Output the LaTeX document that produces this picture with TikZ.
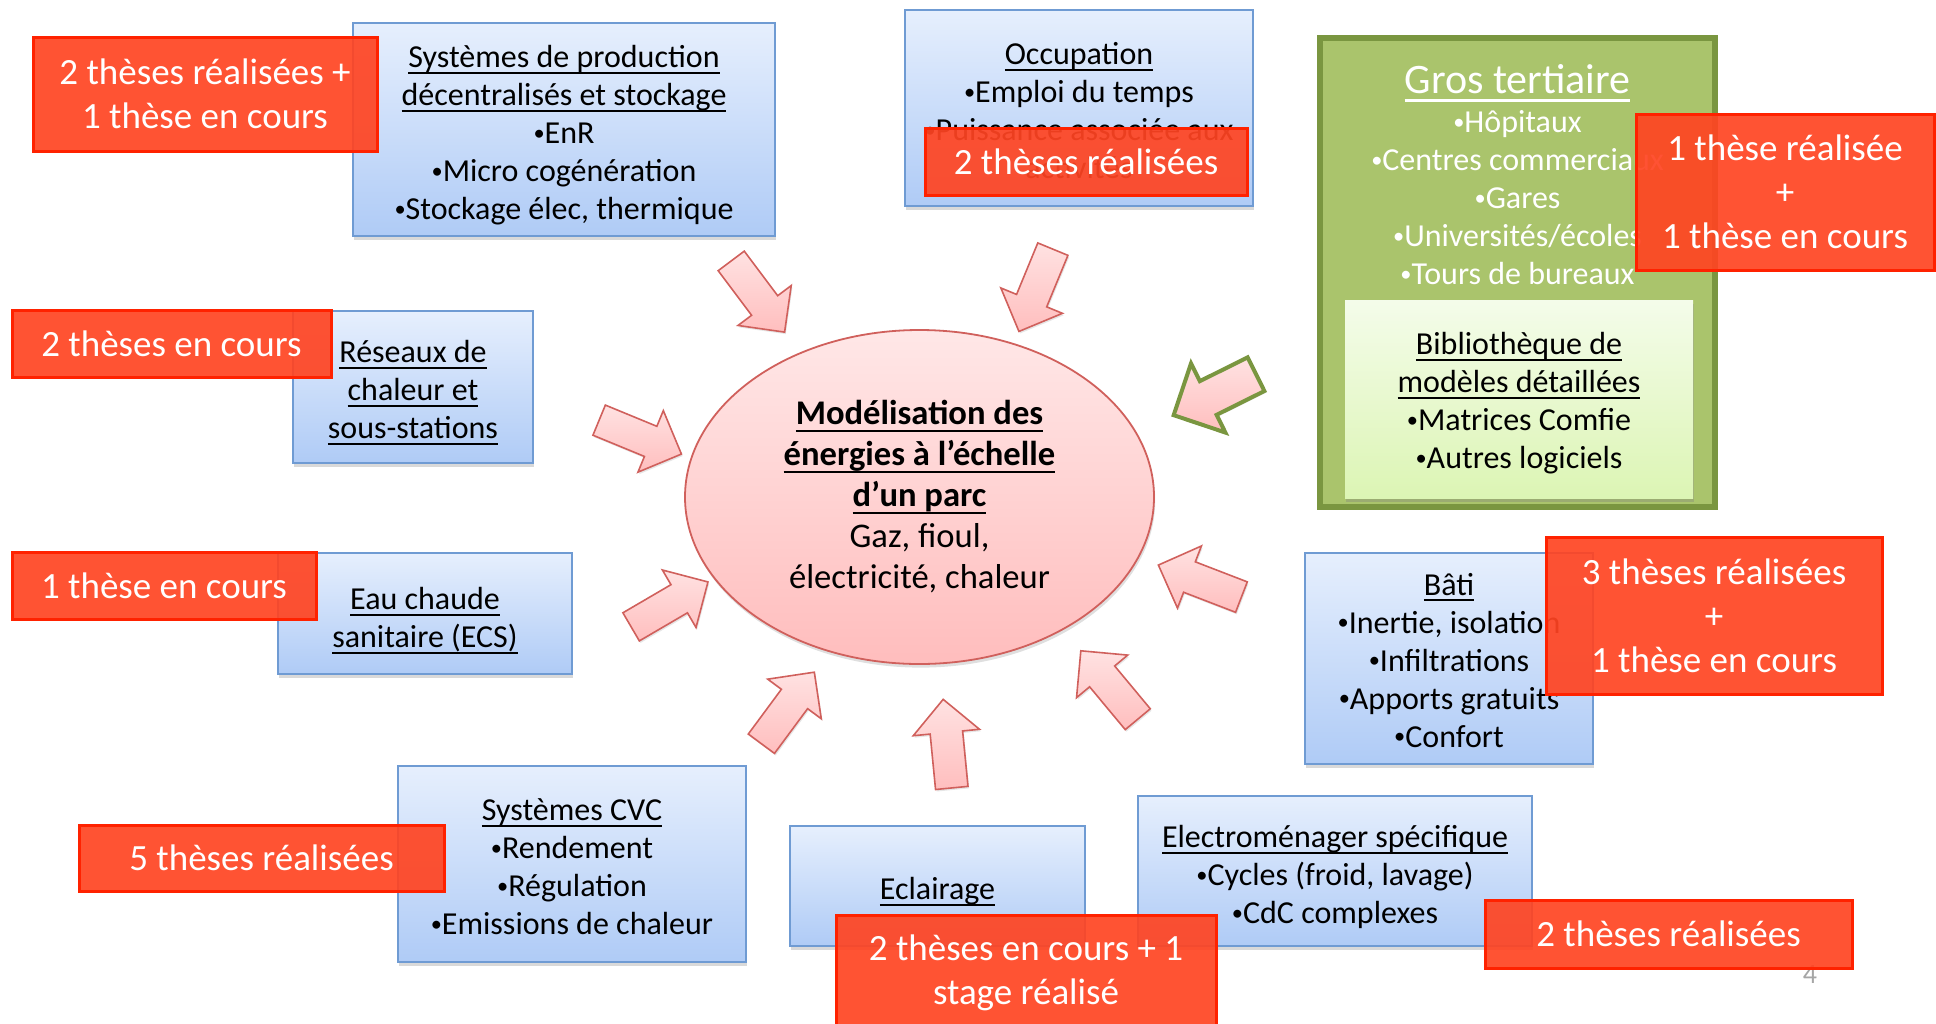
\documentclass[tikz,border=0pt]{standalone}
\usepackage{fontspec}
\setmainfont{Carlito}
\usetikzlibrary{shapes.arrows,shapes.geometric,shadows}

\definecolor{boxtop}{HTML}{E6EFFD}
\definecolor{boxbot}{HTML}{AFCBF6}
\definecolor{boxedge}{HTML}{6F9BD3}
\definecolor{tagfill}{HTML}{FF4422}
\definecolor{tagedge}{HTML}{FF2200}
\definecolor{greenfill}{HTML}{AAC46C}
\definecolor{greenedge}{HTML}{7A9640}
\definecolor{libtop}{HTML}{F4FCEA}
\definecolor{libbot}{HTML}{DCF5B4}
\definecolor{ovaltop}{HTML}{FFE7E7}
\definecolor{ovalbot}{HTML}{FFBDBD}
\definecolor{ovaledge}{HTML}{D0605C}
\definecolor{arrowtop}{HTML}{FFE2E2}
\definecolor{arrowbot}{HTML}{FFBEBE}

\newsavebox\undlbox
\newcommand{\undl}[1]{\sbox\undlbox{#1}\rlap{\raisebox{-0.2em}[0pt][0pt]{\rule{\wd\undlbox}{0.065em}}}\usebox\undlbox}
\newcommand{\bul}{\raisebox{0.1em}{\scalebox{0.7}{•}}}
\newcommand{\toplift}[1]{\rule{0pt}{#1}}

\tikzset{
  bodyfont/.style={font=\fontsize{16}{19}\selectfont},
  topic/.style={rectangle, draw=boxedge, line width=0.9pt, top color=boxtop, bottom color=boxbot,
    align=center, bodyfont, inner sep=0pt,
    drop shadow={shadow xshift=0.6pt, shadow yshift=-1.8pt, opacity=0.3}},
  tag/.style={rectangle, draw=tagedge, line width=1.5pt, fill=tagfill, fill opacity=0.92,
    text opacity=1, text=white, align=center, font=\fontsize{18.5}{22}\selectfont, inner sep=0pt},
  pinkarrow/.style={single arrow, draw=ovaledge, line width=0.8pt, top color=arrowtop, bottom color=arrowbot,
    inner xsep=0pt, inner ysep=7.75pt, text height=0pt, text depth=0pt,
    minimum height=44.5pt, single arrow head extend=8.5pt, single arrow tip angle=90,
    single arrow head indent=0pt, sloped, allow upside down,
    drop shadow={shadow xshift=0.6pt, shadow yshift=-1pt, opacity=0.2}},
}

\begin{document}
\begin{tikzpicture}[x=0.5pt,y=-0.5pt]
\useasboundingbox (0,0) rectangle (1936,1023);

% themes
\node[topic, minimum width=211pt, minimum height=106.5pt] (prod) at (564,129.5)
  {\toplift{17pt}\undl{Systèmes de production}\\\undl{décentralisés et stockage}\\\bul EnR\\\bul Micro cogénération\\\bul Stockage élec, thermique};
\node[topic, minimum width=174pt, minimum height=98pt] (occ) at (1079,108)
  {\toplift{13.7pt}\undl{Occupation}\\\bul Emploi du temps\\\bul Puissance associée aux\\activités};
\node[topic, minimum width=120pt, minimum height=76pt] (reseau) at (413,387)
  {\toplift{13.7pt}\undl{Réseaux de}\\\undl{chaleur et}\\\undl{sous-stations}};
\node[topic, minimum width=147pt, minimum height=60.5pt] (ecs) at (425,613.5)
  {\toplift{17.4pt}\undl{Eau chaude}\\\undl{sanitaire (ECS)}};
\node[topic, minimum width=144pt, minimum height=105.5pt] (bati) at (1449,658.5)
  {\toplift{12.7pt}\undl{Bâti}\\\bul Inertie, isolation\\\bul Infiltrations\\\bul Apports gratuits\\\bul Confort};
\node[topic, minimum width=174pt, minimum height=98pt] (cvc) at (572,864)
  {\toplift{14pt}\undl{Systèmes CVC}\\\bul Rendement\\\bul Régulation\\\bul Emissions de chaleur};
\node[topic, minimum width=147.5pt, minimum height=60pt] (eclair) at (937.5,886)
  {\toplift{16pt}\undl{Eclairage}};
\node[topic, minimum width=197pt, minimum height=75pt] (electro) at (1335,871)
  {\toplift{17.4pt}\undl{Electroménager spécifique}\\\bul Cycles (froid, lavage)\\\bul CdC complexes};

% gros tertiaire
\node[rectangle, draw=greenedge, line width=3pt, fill=greenfill, minimum width=197.5pt, minimum height=234.5pt] (tert) at (1517.5,272.5) {};
\node[text=white, font=\fontsize{21}{25}\selectfont] (terttitle) at (1517.5,79) {\undl{Gros tertiaire}};
\node[text=white, align=center, bodyfont] (tertlist) at (1517.5,198)
  {\bul Hôpitaux\\\bul Centres commerciaux\\\bul Gares\\\bul Universités/écoles\\\bul Tours de bureaux};
\node[rectangle, top color=libtop, bottom color=libbot, align=center, bodyfont, inner sep=0pt,
  minimum width=174pt, minimum height=99pt,
  drop shadow={shadow xshift=0.6pt, shadow yshift=-1.8pt, opacity=0.35}] (biblio) at (1519,399)
  {\toplift{15.2pt}\undl{Bibliothèque de}\\\undl{modèles détaillées}\\\bul Matrices Comfie\\\bul Autres logiciels};

% arrows
\coordinate (t1) at (726,254);    \coordinate (h1) at (780,326);
\coordinate (t2) at (1056,241.5); \coordinate (h2) at (1022,324);
\coordinate (t3) at (591.5,417);  \coordinate (h3) at (674,451);
\coordinate (t4) at (624,631);    \coordinate (h4) at (701,586);
\coordinate (t5) at (756,751);    \coordinate (h5) at (810,678);
\coordinate (t6) at (952.5,795.5);\coordinate (h6) at (944,708);
\coordinate (t7) at (1143,725.5); \coordinate (h7) at (1086,657);
\coordinate (t8) at (1249,600);   \coordinate (h8) at (1166,568);
\coordinate (tg) at (1264.5,370); \coordinate (hg) at (1182,411);

\path (t1) -- (h1) node[pinkarrow, midway] (a1) {};
\path (t2) -- (h2) node[pinkarrow, midway] (a2) {};
\path (t3) -- (h3) node[pinkarrow, midway] (a3) {};
\path (t4) -- (h4) node[pinkarrow, midway] (a4) {};
\path (t5) -- (h5) node[pinkarrow, midway] (a5) {};
\path (t6) -- (h6) node[pinkarrow, midway] (a6) {};
\path (t7) -- (h7) node[pinkarrow, midway] (a7) {};
\path (t8) -- (h8) node[pinkarrow, midway] (a8) {};
\path (tg) -- (hg) node[pinkarrow, midway, draw=greenedge, line width=2pt, fill=greenfill,
  inner ysep=8.4pt, minimum height=46pt, single arrow head extend=9.9pt] (ag) {};

% centre
\node[ellipse, draw=ovaledge, line width=0.9pt, top color=ovaltop, bottom color=ovalbot,
  minimum width=234.5pt, minimum height=167pt, inner sep=0pt, align=center,
  font=\fontsize{17.3}{20.5}\selectfont,
  drop shadow={shadow xshift=0.6pt, shadow yshift=-1.8pt, opacity=0.25}] (parc) at (919.5,497)
  {\textbf{\undl{Modélisation des}}\\\textbf{\undl{énergies à l’échelle}}\\\textbf{\undl{d’un parc}}\\Gaz, fioul,\\électricité, chaleur};

\node[text=black!35, font=\fontsize{14}{16}\selectfont] (pagenum) at (1810,974) {4};

% theses
\node[tag, minimum width=172pt, minimum height=57pt] (n1) at (205,94) {2 thèses réalisées +\\1 thèse en cours};
\node[tag, minimum width=161pt, minimum height=33.5pt] (n2) at (1086,161.5) {2 thèses réalisées};
\node[tag, minimum width=149pt, minimum height=78pt] (n3) at (1785,192) {1 thèse réalisée\\+\\1 thèse en cours};
\node[tag, minimum width=159.5pt, minimum height=33.5pt] (n4) at (171.5,343.5) {2 thèses en cours};
\node[tag, minimum width=152pt, minimum height=33.5pt] (n5) at (164,585.5) {1 thèse en cours};
\node[tag, minimum width=168pt, minimum height=78.5pt] (n6) at (1714,615.5) {3 thèses réalisées\\+\\1 thèse en cours};
\node[tag, minimum width=182.5pt, minimum height=33pt] (n7) at (261.5,858) {5 thèses réalisées};
\node[tag, minimum width=190pt, minimum height=58pt] (n8) at (1026,973) {2 thèses en cours + 1\\stage réalisé};
\node[tag, minimum width=183.5pt, minimum height=34pt] (n9) at (1668.5,934) {2 thèses réalisées};

\end{tikzpicture}
\end{document}
